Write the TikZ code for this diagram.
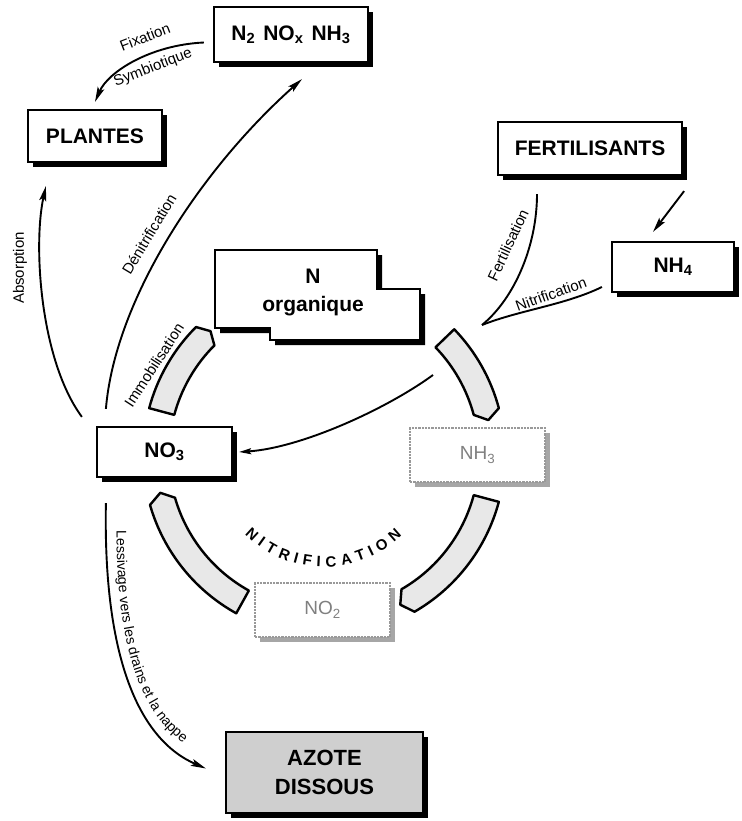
\documentclass[tikz,border=0pt]{standalone}
\usepackage{fontspec}
\setmainfont{Liberation Sans}
\newfontfamily\lab{Liberation Sans}
\usetikzlibrary{arrows.meta,shadows,decorations.text,calc}
\tikzset{
  bx/.style={draw, line width=2.2pt, fill=white, inner sep=0pt,
    font=\fontsize{21}{24}\selectfont\bfseries,
    drop shadow={shadow xshift=5pt, shadow yshift=-5pt, fill=black, opacity=1}},
  gbx/.style={draw=gray!80, densely dotted, line width=2.3pt, fill=white, inner sep=0pt,
    font=\fontsize{19}{21}\selectfont, text=black!50,
    drop shadow={shadow xshift=5pt, shadow yshift=-5pt, fill=gray!70, opacity=1}},
  con/.style={line width=1.9pt},
  arr/.style={con, -{Stealth[length=15pt,width=7pt,inset=3pt]}},
  sarr/.style={con, -{Stealth[length=12pt,width=6pt,inset=2pt]}},
  lbl/.style={font=\fontsize{15}{17}\selectfont, inner sep=0pt},
  seg/.style={line width=2.4pt, fill=gray!18, line join=round},
}
\begin{document}
\begin{tikzpicture}[x=1pt,y=-1pt]
\useasboundingbox (0,0) rectangle (741,821);

% boxes
\node[bx, minimum width=154pt, minimum height=55pt] (n2) at (291,34.5)
  {N\textsubscript{2}\hspace{8pt}NO\textsubscript{x}\hspace{8pt}NH\textsubscript{3}};
\node[bx, minimum width=134pt, minimum height=52pt] (pl) at (95,136) {PLANTES};
\node[bx, minimum width=184pt, minimum height=53pt] (fe) at (590,148.5) {FERTILISANTS};
\node[bx, minimum width=122pt, minimum height=50pt] (nh4) at (673,267) {NH\textsubscript{4}};
\node[bx, minimum width=135pt, minimum height=50pt] (no3) at (164.5,452) {NO\textsubscript{3}};
\node[gbx, minimum width=135pt, minimum height=54pt] (nh3) at (477.5,455) {NH\textsubscript{3}};
\node[gbx, minimum width=135pt, minimum height=54pt] (no2) at (322.5,610) {NO\textsubscript{2}};
\node[bx, fill=gray!38, minimum width=197pt, minimum height=81pt, align=center,
  font=\fontsize{22}{29}\selectfont\bfseries] (az) at (324.5,772.5) {AZOTE\\DISSOUS};

% N organique
\fill[shift={(5,5)}] (215,250) -- (377,250) -- (377,289) -- (420,289) -- (420,340)
  -- (270,340) -- (270,328) -- (215,328) -- cycle;
\draw[line width=2.2pt, fill=white] (215,250) -- (377,250) -- (377,289) -- (420,289) -- (420,340)
  -- (270,340) -- (270,328) -- (215,328) -- cycle;
\node[align=center, font=\fontsize{21}{28}\selectfont\bfseries] (norg) at (313,292) {N\\organique};

% ring segments
\begin{scope}[shift={(324,455)}, x=1pt, y=1pt]
  \foreach \a/\b/\d in {165/135/-2.5, 44/15/-3, -15/-60/-3, 241/196/-3}{
    \draw[seg] (\a:181) arc[start angle=\a, end angle=\b, radius=181]
      -- ({\b+\d}:168) -- (\b:155) arc[start angle=\b, end angle=\a, radius=155] -- cycle;
  }
  \path[decorate, decoration={text along path,
      text={|\fontsize{15}{17}\selectfont\bfseries|NITRIFICATION}, text align=fit to path}]
    (-135:112) arc[start angle=-135, end angle=-46, radius=112];
\end{scope}

% connectors
\coordinate (nstart) at (433,375);
\coordinate (cusp) at (482,325);
\draw[arr] ([shift={(-9,8)}]n2.west) .. controls (150,45) and (108,72) .. ([shift={(0,-7)}]pl.north);
\draw[arr] ([shift={(-14,-9)}]no3.north west) .. controls (40,360) and (33,245) .. ([shift={(19,23)}]pl.south west);
\draw[arr] ([shift={(10,-17)}]no3.north west) .. controls (115,300) and (200,170) .. ([shift={(11,16)}]n2.south);
\draw[sarr] (nstart) .. controls (385,410) and (300,448) .. ([xshift=6pt]no3.east);
\draw[arr] ([shift={(1,15)}]fe.south east) -- ([shift={(-20,-9)}]nh4.north);
\draw[con] ([shift={(-53,18)}]fe.south) .. controls (537,245) and (515,298) .. (cusp);
\draw[con] ([shift={(-9,20)}]nh4.west) .. controls (565,305) and (520,310) .. (cusp);
\draw[arr] ([shift={(10,25)}]no3.south west) .. controls (103,660) and (140,740) .. ([shift={(-19,-4)}]az.west);

\path[decorate, decoration={text along path,
    text={|\lab\fontsize{14}{16}\selectfont|Lessivage vers les drains et la nappe}, text align=center}]
  (117,500) .. controls (112,660) and (146,733) .. (210,757);

% labels
\node[lbl, rotate=21] (lfix) at (145,37) {Fixation};
\node[lbl, rotate=21] (lsym) at (153,68) {Symbiotique};
\node[lbl, rotate=90] (labs) at (20,268) {Absorption};
\node[lbl, rotate=59] (lden) at (149,234) {Dénitrification};
\node[lbl, rotate=57] (limm) at (154,365) {Immobilisation};
\node[lbl, rotate=65] (lfer) at (508,245) {Fertilisation};
\node[lbl, rotate=20] (lnit) at (551,294) {Nitrification};
\end{tikzpicture}
\end{document}
